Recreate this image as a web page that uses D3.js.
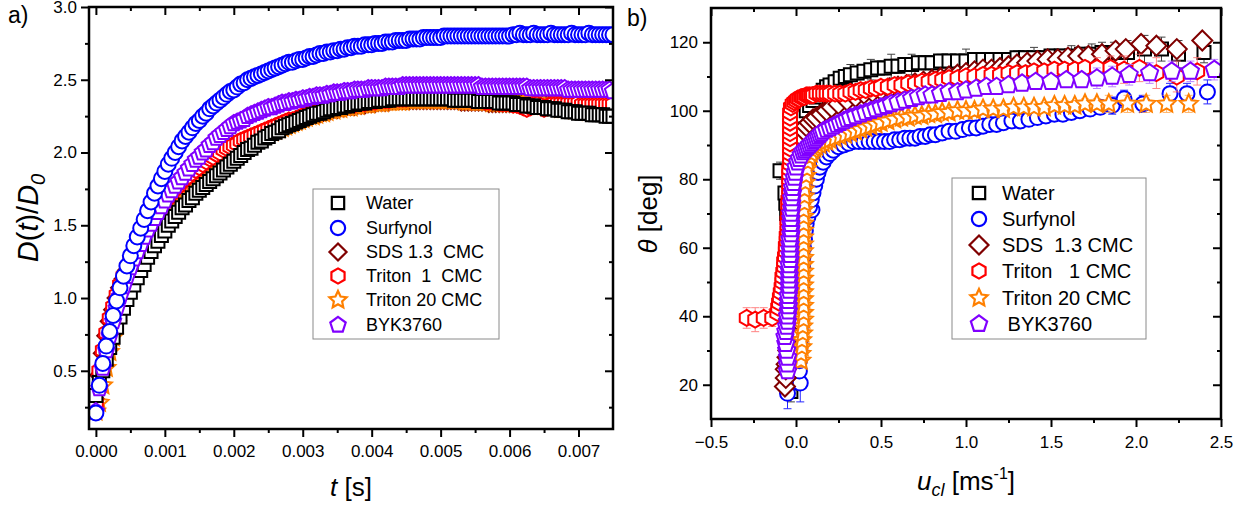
<!DOCTYPE html>
<html>
<head>
<meta charset="utf-8">
<script src="https://cdn.jsdelivr.net/npm/d3@7"></script>
<style>
  body { margin: 0; background: #fff; }
  text { font-family: "Liberation Sans", Arial, sans-serif; }
</style>
</head>
<body>
<svg id="chart" width="1255" height="506"></svg>
<script>
// ---------- panel a data: D(t)/D0 vs t ----------
var timeMs = [
  0,0.05,0.1,0.15,0.2,0.25,0.3,0.35,0.4,0.45,0.5,0.55,0.6,0.65,0.7,0.75,0.8,0.85,0.9,0.95,
  1,1.05,1.1,1.15,1.2,1.25,1.3,1.35,1.4,1.45,1.5,1.55,1.6,1.65,1.7,1.75,1.8,1.85,1.9,1.95,
  2,2.05,2.1,2.15,2.2,2.25,2.3,2.35,2.4,2.45,2.5,2.55,2.6,2.65,2.7,2.75,2.8,2.85,2.9,2.95,
  3,3.05,3.1,3.15,3.2,3.25,3.3,3.35,3.4,3.45,3.5,3.55,3.6,3.65,3.7,3.75,3.8,3.85,3.9,3.95,
  4,4.05,4.1,4.15,4.2,4.25,4.3,4.35,4.4,4.45,4.5,4.55,4.6,4.65,4.7,4.75,4.8,4.85,4.9,4.95,
  5,5.05,5.1,5.15,5.2,5.25,5.3,5.35,5.4,5.45,5.5,5.55,5.6,5.65,5.7,5.75,5.8,5.85,5.9,5.95,
  6,6.05,6.1,6.15,6.2,6.25,6.3,6.35,6.4,6.45,6.5,6.55,6.6,6.65,6.7,6.75,6.8,6.85,6.9,6.95,
  7,7.05,7.1,7.15,7.2,7.25,7.3,7.35,7.4,7.45,7.5
];

var waterA = [
  0.33,0.42,0.50,0.58,0.66,0.73,0.80,0.87,0.93,0.99,1.04,1.09,1.14,1.19,1.23,1.28,1.32,1.36,1.39,1.43,
  1.46,1.50,1.53,1.56,1.59,1.62,1.64,1.67,1.69,1.72,1.74,1.76,1.78,1.80,1.82,1.84,1.86,1.88,1.90,1.92,
  1.94,1.96,1.98,2.00,2.02,2.03,2.05,2.07,2.08,2.10,2.11,2.13,2.14,2.15,2.17,2.18,2.19,2.20,2.21,2.22,
  2.23,2.24,2.25,2.26,2.27,2.27,2.28,2.29,2.30,2.30,2.31,2.31,2.32,2.32,2.33,2.33,2.34,2.34,2.34,2.35,
  2.35,2.35,2.36,2.36,2.36,2.36,2.37,2.37,2.37,2.37,2.37,2.37,2.37,2.37,2.37,2.37,2.37,2.37,2.37,2.37,
  2.37,2.37,2.37,2.37,2.36,2.36,2.36,2.36,2.36,2.36,2.36,2.35,2.35,2.35,2.35,2.35,2.35,2.34,2.34,2.34,
  2.34,2.34,2.33,2.33,2.33,2.32,2.32,2.32,2.31,2.31,2.31,2.30,2.30,2.30,2.29,2.29,2.29,2.28,2.28,2.28,
  2.27,2.27,2.27,2.27,2.26,2.26,2.26,2.26,2.25,2.25,2.25
];
var surfynolA = [
  0.21,0.40,0.55,0.67,0.77,0.88,0.98,1.07,1.15,1.22,1.29,1.36,1.42,1.48,1.54,1.60,1.66,1.72,1.77,1.82,
  1.87,1.92,1.96,2.00,2.04,2.08,2.11,2.14,2.17,2.20,2.22,2.25,2.27,2.30,2.32,2.34,2.36,2.38,2.40,2.42,
  2.43,2.45,2.47,2.48,2.50,2.51,2.52,2.53,2.54,2.55,2.56,2.57,2.58,2.59,2.60,2.61,2.62,2.62,2.63,2.64,
  2.64,2.65,2.66,2.66,2.67,2.68,2.68,2.69,2.69,2.70,2.70,2.71,2.71,2.72,2.72,2.73,2.73,2.73,2.74,2.74,
  2.74,2.75,2.75,2.75,2.76,2.76,2.76,2.77,2.77,2.77,2.77,2.78,2.78,2.78,2.78,2.79,2.79,2.79,2.79,2.79,
  2.79,2.80,2.80,2.80,2.80,2.80,2.80,2.80,2.80,2.80,2.80,2.80,2.80,2.80,2.80,2.80,2.80,2.80,2.80,2.80,
  2.80,2.81,2.81,2.82,2.81,2.81,2.81,2.82,2.81,2.81,2.81,2.81,2.82,2.81,2.81,2.81,2.81,2.81,2.82,2.81,
  2.81,2.81,2.81,2.82,2.81,2.81,2.81,2.81,2.81,2.81,2.81
];
var sdsA = [
  0.30,0.47,0.62,0.74,0.84,0.92,1.00,1.07,1.13,1.19,1.24,1.29,1.34,1.39,1.43,1.47,1.51,1.55,1.59,1.62,
  1.65,1.68,1.71,1.73,1.76,1.78,1.81,1.83,1.85,1.87,1.89,1.91,1.93,1.94,1.96,1.98,1.99,2.01,2.02,2.03,
  2.05,2.06,2.07,2.08,2.09,2.10,2.11,2.12,2.13,2.14,2.15,2.16,2.17,2.18,2.19,2.20,2.21,2.21,2.22,2.23,
  2.24,2.25,2.25,2.26,2.27,2.27,2.28,2.29,2.29,2.30,2.30,2.31,2.31,2.32,2.32,2.32,2.33,2.33,2.33,2.34,
  2.34,2.34,2.35,2.35,2.35,2.35,2.36,2.36,2.36,2.36,2.36,2.36,2.36,2.36,2.36,2.36,2.36,2.36,2.36,2.36,
  2.36,2.36,2.36,2.36,2.36,2.36,2.35,2.35,2.35,2.35,2.35,2.35,2.35,2.35,2.34,2.34,2.34,2.34,2.34,2.34,
  2.34,2.34,2.34,2.34,2.34,2.34,2.34,2.34,2.34,2.34,2.34,2.33,2.33,2.33,2.33,2.33,2.33,2.33,2.33,2.33,
  2.33,2.33,2.33,2.33,2.33,2.33,2.33,2.33,2.33,2.33,2.33
];
var triton1A = [
  0.28,0.50,0.64,0.76,0.86,0.94,1.02,1.09,1.15,1.21,1.26,1.31,1.36,1.41,1.45,1.49,1.53,1.57,1.60,1.63,
  1.66,1.69,1.72,1.75,1.77,1.80,1.82,1.84,1.86,1.88,1.90,1.92,1.94,1.96,1.97,1.99,2.00,2.02,2.03,2.04,
  2.05,2.06,2.08,2.09,2.10,2.11,2.12,2.13,2.14,2.15,2.16,2.17,2.18,2.19,2.20,2.21,2.22,2.22,2.23,2.24,
  2.25,2.26,2.26,2.27,2.28,2.28,2.29,2.30,2.30,2.31,2.31,2.32,2.32,2.33,2.33,2.33,2.34,2.34,2.34,2.35,
  2.35,2.35,2.36,2.36,2.36,2.36,2.37,2.37,2.37,2.37,2.37,2.38,2.38,2.38,2.38,2.38,2.38,2.38,2.38,2.38,
  2.38,2.38,2.38,2.38,2.37,2.37,2.37,2.37,2.37,2.36,2.36,2.36,2.36,2.35,2.35,2.35,2.35,2.34,2.34,2.34,
  2.34,2.33,2.33,2.32,2.31,2.30,2.31,2.33,2.33,2.32,2.30,2.31,2.33,2.34,2.34,2.34,2.34,2.34,2.34,2.34,
  2.34,2.33,2.33,2.33,2.33,2.33,2.33,2.33,2.33,2.33,2.33
];
var triton20A = [
  0.22,0.28,0.40,0.52,0.63,0.73,0.82,0.90,0.97,1.04,1.10,1.16,1.21,1.26,1.31,1.35,1.39,1.43,1.47,1.51,
  1.54,1.57,1.60,1.63,1.66,1.69,1.71,1.74,1.76,1.78,1.81,1.83,1.85,1.87,1.89,1.91,1.93,1.94,1.96,1.98,
  1.99,2.01,2.02,2.04,2.05,2.07,2.08,2.09,2.11,2.12,2.13,2.14,2.15,2.16,2.17,2.18,2.19,2.20,2.21,2.22,
  2.23,2.24,2.25,2.25,2.26,2.27,2.27,2.28,2.29,2.29,2.30,2.30,2.31,2.31,2.31,2.32,2.32,2.33,2.33,2.33,
  2.34,2.34,2.34,2.34,2.35,2.35,2.35,2.35,2.35,2.35,2.36,2.36,2.36,2.36,2.36,2.36,2.36,2.36,2.36,2.36,
  2.36,2.36,2.36,2.36,2.36,2.36,2.36,2.35,2.35,2.35,2.35,2.35,2.35,2.35,2.35,2.34,2.34,2.34,2.34,2.34,
  2.34,2.34,2.34,2.33,2.33,2.33,2.33,2.32,2.32,2.32,2.32,2.31,2.31,2.31,2.31,2.30,2.30,2.30,2.30,2.29,
  2.29,2.29,2.29,2.28,2.28,2.28,2.28,2.28,2.27,2.27,2.27
];
var byk3760A = [
  0.22,0.38,0.52,0.64,0.74,0.84,0.93,1.01,1.08,1.15,1.21,1.27,1.32,1.37,1.42,1.47,1.51,1.55,1.59,1.63,
  1.67,1.71,1.74,1.77,1.80,1.83,1.86,1.89,1.92,1.95,1.97,2.00,2.02,2.05,2.07,2.10,2.12,2.14,2.16,2.18,
  2.20,2.21,2.22,2.23,2.25,2.26,2.27,2.28,2.29,2.30,2.31,2.31,2.32,2.33,2.34,2.34,2.35,2.35,2.36,2.36,
  2.37,2.37,2.38,2.38,2.39,2.39,2.39,2.40,2.40,2.41,2.41,2.41,2.42,2.42,2.42,2.43,2.43,2.43,2.43,2.44,
  2.44,2.44,2.44,2.44,2.45,2.45,2.45,2.45,2.45,2.46,2.46,2.46,2.46,2.46,2.46,2.46,2.46,2.46,2.46,2.46,
  2.46,2.46,2.46,2.46,2.46,2.46,2.46,2.46,2.46,2.46,2.46,2.46,2.45,2.45,2.45,2.45,2.45,2.45,2.45,2.45,
  2.45,2.45,2.45,2.45,2.45,2.45,2.44,2.44,2.44,2.44,2.44,2.44,2.44,2.44,2.44,2.44,2.44,2.43,2.43,2.43,
  2.43,2.43,2.43,2.43,2.43,2.43,2.43,2.43,2.43,2.43,2.42
];

// ---------- panel b data: [u_cl (m/s), theta (deg), error (deg, optional)] ----------
var waterB = [
  [-0.03,18,3],[-0.03,20.5,3],[-0.025,23,3],[-0.025,25.5],[-0.02,28],[-0.02,31],[-0.025,34],[-0.03,37],
  [-0.03,40],[-0.035,43],[-0.035,46],[-0.04,49],[-0.04,52],[-0.04,55],[-0.045,58],[-0.045,61],[-0.05,64],
  [-0.05,67],[-0.055,70],[-0.06,73],[-0.065,76],[-0.094,82.5,2.5],[-0.03,86],[-0.02,89],[-0.01,92],[0,95],
  [0.02,97],[0.04,98.5],[0.06,100],[0.08,101.5],[0.1,103],[0.12,104],[0.14,105],[0.16,106],[0.18,107],
  [0.2,107.5],[0.23,108.5],[0.26,109.5],[0.29,110],[0.32,110.5,3],[0.36,111],[0.4,111.5],[0.44,112,3],
  [0.48,112.5],[0.52,112.5],[0.56,113,3.5],[0.6,113],[0.64,113.5],[0.68,113.5,3],[0.72,114],[0.76,114],
  [0.8,114],[0.85,114.5],[0.9,114.5],[0.95,114.5],[1.0,114.5,3.5],[1.05,115],[1.1,115],[1.15,115],[1.2,115],
  [1.25,115],[1.3,115.5],[1.35,115.5],[1.4,115.5,3],[1.45,115.5],[1.5,116],[1.56,116],[1.62,116,3],
  [1.68,116.5],[1.74,116.5,3],[1.8,117,3],[1.87,117,3],[1.95,117,3.5],[2.05,118,4],[2.15,118,3.5],
  [2.25,116.5,4],[2.4,117,3]
];
var surfynolB = [
  [-0.05,17.5,4.5],[0.025,20.5,5.5],[0.02,24],[0.02,27],[0.02,30],[0.025,33],[0.025,36],[0.03,39],[0.03,42],
  [0.03,45],[0.035,48],[0.035,51],[0.04,54],[0.04,57],[0.045,60],[0.05,62.5],[0.055,65],[0.06,67],[0.07,69],
  [0.094,71],[0.08,72],[0.09,74],[0.1,76],[0.11,78],[0.12,80],[0.13,82],[0.14,83.5],[0.16,85],[0.18,86.5],
  [0.2,87.5],[0.22,88.5],[0.25,89.5],[0.28,90],[0.31,90.5],[0.34,91],[0.37,91],[0.4,91],[0.43,91],[0.46,91],
  [0.49,91],[0.52,91],[0.55,91],[0.58,91.5],[0.61,91.5],[0.64,92],[0.67,92],[0.7,92],[0.73,92.5],[0.76,92.5],
  [0.79,93],[0.82,93],[0.86,93.5],[0.9,94],[0.94,94],[0.98,94.5],[1.02,95],[1.06,95],[1.1,95.5],[1.14,96],
  [1.18,96],[1.22,96.5],[1.27,97],[1.32,97],[1.37,97.5],[1.42,98],[1.47,98.5],[1.52,99],[1.57,99],
  [1.62,99.5],[1.67,100],[1.73,100.5],[1.79,101],[1.86,101.5,2.5],[1.93,103.5,2.5],[2.04,102,2.5],
  [2.2,105,3],[2.3,105,3],[2.42,105.5,3.5]
];
var sdsB = [
  [-0.065,19.5,2],[-0.06,22],[-0.06,24.5],[-0.055,26],[-0.05,28],[-0.045,30],[-0.04,32],[-0.035,34],[0,36],
  [0.005,39],[0.01,42],[0.01,45],[0.015,48],[0.015,51],[0.02,54],[0.02,57],[0.02,60],[0.02,63],[0.02,66],
  [0.02,69],[0.02,72],[0.02,75],[0.02,78],[0.02,81],[0.025,84],[0.03,87],[0.035,90],[0.04,92],[0.05,94],
  [0.06,95.5],[0.08,96.5],[0.1,97.5],[0.12,98],[0.15,99],[0.18,100],[0.21,101],[0.25,102],[0.3,103],
  [0.35,104],[0.4,105],[0.45,105.5],[0.5,106],[0.55,106.5],[0.6,107],[0.65,107.5],[0.7,108],[0.75,108.5],
  [0.8,109],[0.85,109.5],[0.9,110],[0.95,110.5],[1.0,111],[1.05,111.5],[1.1,112],[1.15,112],[1.2,112.5],
  [1.25,113],[1.3,113.5],[1.36,114],[1.42,114.5],[1.48,115],[1.54,115],[1.6,115.5],[1.66,116],[1.72,116],
  [1.8,116.5],[1.88,117.5],[1.94,118],[2.03,119.5],[2.12,119],[2.24,118],[2.39,120.5]
];
var triton1B = [
  [-0.29,39.5,3],[-0.24,39,3.5],[-0.19,39.5,3],[-0.14,39.5,2.5],
  [-0.11,41],[-0.105,42.5],[-0.1,44],[-0.095,45.5],[-0.09,47],[-0.085,48.5],[-0.08,50],[-0.08,51.5],
  [-0.075,53],[-0.07,54.5],[-0.07,56],[-0.065,57.5],[-0.06,59],[-0.06,60.5],[-0.055,62],[-0.055,63.5],
  [-0.05,65],[-0.05,66.5],[-0.05,68],[-0.045,69.5],[-0.045,71],[-0.045,72.5],[-0.045,74],[-0.04,75.5],
  [-0.04,77],[-0.04,78.5],[-0.04,80],[-0.04,81.5],[-0.04,83],[-0.035,84.5],[-0.035,86],[-0.035,87.5],
  [-0.035,89],[-0.035,90.5],[-0.035,92],[-0.035,93.5],[-0.035,95],[-0.035,96.5],[-0.035,98],[-0.035,99.5],
  [-0.03,101],[-0.02,102],[-0.01,102.5],[0,103],[0.01,103.5],[0.02,103.5],[0.03,104],[0.04,104],[0.05,104],
  [0.06,104.5],[0.07,104.5],[0.08,104.5],[0.09,104.5],[0.1,104.5],[0.12,105],[0.14,105],[0.16,105],
  [0.18,105],[0.2,105],[0.23,105],[0.26,105],[0.29,105],[0.32,105.5],[0.35,105.5],[0.38,106],[0.41,106],
  [0.44,106.5],[0.47,106.5],[0.5,107],[0.54,107],[0.58,107.5],[0.62,107.5],[0.66,108],[0.7,108],
  [0.74,108.5],[0.78,108.5],[0.82,109],[0.86,109],[0.9,109.5],[0.95,109.5],[1.0,110],[1.05,110],[1.1,110.5],
  [1.15,110.5],[1.2,110.5],[1.25,111],[1.3,111],[1.35,111],[1.4,111.5],[1.46,111.5],[1.52,112],[1.58,112],
  [1.64,112],[1.7,112.5],[1.77,112.5,3],[1.85,112.5,3.5],[1.93,112,4],[2.02,112.5,4],[2.12,111,4.5],
  [2.24,110,4.5],[2.36,111.5,4]
];
var triton20B = [
  [0.03,27,2],[0.03,29,2],[0.035,31,2],[0.035,33],[0.04,35],[0.04,37],[0.045,39],[0.045,41],[0.045,43],
  [0.045,45],[0.045,47],[0.045,49],[0.045,51],[0.045,53],[0.045,55],[0.045,57],[0.045,59],[0.045,61],
  [0.045,63],[0.045,65],[0.045,67],[0.045,69],[0.045,71],[0.05,73],[0.05,75],[0.05,77],[0.055,79],[0.06,81],
  [0.065,83],[0.07,85],[0.08,86.5],[0.09,87.5],[0.1,88.5],[0.11,89],[0.12,89.5],[0.14,90],[0.16,90.5],
  [0.18,91],[0.2,91.5],[0.23,92],[0.26,92.5],[0.29,93],[0.32,93.5],[0.35,94],[0.38,94.5],[0.41,95],
  [0.44,95.5],[0.47,96],[0.5,96.5],[0.54,97],[0.58,97.5],[0.62,98],[0.66,98],[0.7,98.5],[0.74,98.5],
  [0.78,99],[0.82,99],[0.86,99.5],[0.9,99.5],[0.95,100],[1.0,100],[1.05,100],[1.1,100.5],[1.16,100.5],
  [1.22,100.5],[1.28,101],[1.34,101],[1.4,101],[1.46,101],[1.52,101.5],[1.58,101.5],[1.64,101.5],
  [1.7,102],[1.77,102],[1.84,102,2.5],[1.95,102,2.5],[2.06,102,2.5],[2.18,102,2.5],[2.31,102,2.5]
];
var byk3760B = [
  [-0.05,24],[-0.05,26],[-0.05,28],[-0.055,30],[-0.06,32],[-0.065,34],[-0.06,35.5],[-0.055,37],[-0.05,38.5],
  [-0.05,40],[-0.045,41.5],[-0.045,43],[-0.045,44.5],[-0.045,46],[-0.04,47.5],[-0.04,49],[-0.04,50.5],
  [-0.04,52],[-0.04,53.5],[-0.04,55],[-0.035,56.5],[-0.035,58],[-0.035,59.5],[-0.035,61],[-0.035,62.5],
  [-0.03,64],[-0.03,65.5],[-0.03,67],[-0.03,68.5],[-0.03,70],[-0.025,71.5],[-0.025,73],[-0.025,74.5],
  [-0.02,76],[-0.02,77.5],[-0.015,79],[-0.01,80.5],[-0.005,82],[0,83.5],[0.01,85],[0.02,86],[0.03,87],
  [0.04,88],[0.05,88.5],[0.06,89],[0.07,89.5],[0.08,90],[0.09,90.5],[0.1,91],[0.11,91.5],[0.12,92],
  [0.13,92.5],[0.14,93],[0.15,93.5],[0.16,94],[0.18,94.5],[0.2,95],[0.22,95.5],[0.24,96],[0.26,96.5],
  [0.28,97],[0.3,97.5],[0.32,98],[0.35,98.5],[0.38,99],[0.41,99.5],[0.44,100],[0.47,100.5],[0.5,101],
  [0.53,101.5],[0.56,102],[0.6,102.5],[0.64,103],[0.68,103.5],[0.72,104],[0.76,104.5],[0.8,104.5],
  [0.85,105],[0.9,105.5],[0.95,105.5],[1.0,106],[1.06,106.5],[1.12,107],[1.18,107],[1.25,107.5],[1.33,108],
  [1.41,108.5],[1.5,108.5],[1.59,109],[1.68,109],[1.77,109.5,3],[1.86,110,3],[1.96,110.5,3],[2.08,111,3],
  [2.21,111.5,3],[2.32,111.5,3],[2.46,112,3]
];

var legendLabelsA = ["Water", "Surfynol", "SDS 1.3  CMC", "Triton  1  CMC", "Triton 20 CMC", "BYK3760"];
var legendLabelsB = ["Water", "Surfynol", "SDS  1.3 CMC", "Triton   1 CMC", "Triton 20 CMC", " BYK3760"];

var xTicksA = [0, 0.001, 0.002, 0.003, 0.004, 0.005, 0.006, 0.007];
var xMinorA = [0.0005, 0.0015, 0.0025, 0.0035, 0.0045, 0.0055, 0.0065];
var yTicksA = [0.5, 1.0, 1.5, 2.0, 2.5, 3.0];
var yMinorA = [0.25, 0.75, 1.25, 1.75, 2.25, 2.75];
var xTicksB = [-0.5, 0, 0.5, 1.0, 1.5, 2.0, 2.5];
var xMinorB = [-0.25, 0.25, 0.75, 1.25, 1.75, 2.25];
var yTicksB = [20, 40, 60, 80, 100, 120];
var yMinorB = [30, 50, 70, 90, 110];

// ---------- styles ----------
var series = [
  { name: "water",    color: "#000000", bar: "#222222", shape: "square" },
  { name: "surfynol", color: "#0000ff", bar: "#0000ff", shape: "circle" },
  { name: "sds",      color: "#800000", bar: "#a04040", shape: "diamond" },
  { name: "triton1",  color: "#ff0000", bar: "#ff7070", shape: "hexagon" },
  { name: "triton20", color: "#ff8000", bar: "#ffaa55", shape: "star" },
  { name: "byk",      color: "#8000ff", bar: "#b070ff", shape: "pentagon" }
];
var dataA = { water: waterA, surfynol: surfynolA, sds: sdsA, triton1: triton1A, triton20: triton20A, byk: byk3760A };
var dataB = { water: waterB, surfynol: surfynolB, sds: sdsB, triton1: triton1B, triton20: triton20B, byk: byk3760B };
var defaultErr = { water: 2, surfynol: 2, sds: 1.5, triton1: 2, triton20: 1.5, byk: 2 };

var sizeA = { square: 6.5, circle: 7.5, diamond: 9, hexagon: 8, star: 9.5, pentagon: 8.5 };
var sizeB = { square: 6.5, circle: 7.5, diamond: 10, hexagon: 8, star: 9.5, pentagon: 9 };

function polyPath(n, r, start) {
  var pts = d3.range(n).map(function (i) {
    var a = start + i * 2 * Math.PI / n;
    return (r * Math.cos(a)).toFixed(2) + "," + (r * Math.sin(a)).toFixed(2);
  });
  return "M" + pts.join("L") + "Z";
}
function starPath(r, ri) {
  var pts = d3.range(10).map(function (i) {
    var a = -Math.PI / 2 + i * Math.PI / 5;
    var rr = i % 2 ? ri : r;
    return (rr * Math.cos(a)).toFixed(2) + "," + (rr * Math.sin(a)).toFixed(2);
  });
  return "M" + pts.join("L") + "Z";
}
function markerPath(shape, r) {
  if (shape === "square") return "M" + (-r) + "," + (-r) + "H" + r + "V" + r + "H" + (-r) + "Z";
  if (shape === "circle") return d3.symbol(d3.symbolCircle, Math.PI * r * r)();
  if (shape === "diamond") return "M0," + (-r) + "L" + r + ",0L0," + r + "L" + (-r) + ",0Z";
  if (shape === "hexagon") return polyPath(6, r, -Math.PI / 2);
  if (shape === "pentagon") return polyPath(5, r, -Math.PI / 2);
  return starPath(r, r * 0.48);
}

var svg = d3.select("#chart");
svg.append("rect").attr("width", 1255).attr("height", 506).attr("fill", "#fff");

function styleAxis(g, fontSize) {
  g.select(".domain").remove();
  g.attr("font-family", "Liberation Sans, Arial, sans-serif").attr("font-size", fontSize);
  g.selectAll("line").attr("stroke", "#000").attr("stroke-width", 2);
  g.selectAll("text").attr("fill", "#000");
}

function drawAxes(x, y, o) {
  var x0 = x.range()[0], x1 = x.range()[1], y0 = y.range()[0], y1 = y.range()[1];
  // bottom
  svg.append("g").attr("transform", "translate(0," + y0 + ")")
    .call(d3.axisBottom(x).tickValues(o.xMinor).tickSize(4).tickFormat(""))
    .call(styleAxis, o.fs);
  svg.append("g").attr("transform", "translate(0," + y0 + ")")
    .call(d3.axisBottom(x).tickValues(o.xTicks).tickSize(8).tickFormat(o.xFmt))
    .call(styleAxis, o.fs)
    .call(function (g) { g.selectAll("text").attr("y", o.xLabY).attr("dy", null); });
  // top (ticks inward)
  svg.append("g").attr("transform", "translate(0," + y1 + ")")
    .call(d3.axisTop(x).tickValues(o.xMinor).tickSize(-4).tickFormat(""))
    .call(styleAxis, o.fs);
  svg.append("g").attr("transform", "translate(0," + y1 + ")")
    .call(d3.axisTop(x).tickValues(o.xTicks).tickSize(-8).tickFormat(""))
    .call(styleAxis, o.fs);
  // left
  svg.append("g").attr("transform", "translate(" + x0 + ",0)")
    .call(d3.axisLeft(y).tickValues(o.yMinor).tickSize(4).tickFormat(""))
    .call(styleAxis, o.fs);
  svg.append("g").attr("transform", "translate(" + x0 + ",0)")
    .call(d3.axisLeft(y).tickValues(o.yTicks).tickSize(8).tickPadding(o.yPad).tickFormat(o.yFmt))
    .call(styleAxis, o.fs);
  // right (ticks inward)
  svg.append("g").attr("transform", "translate(" + x1 + ",0)")
    .call(d3.axisRight(y).tickValues(o.yMinor).tickSize(-4).tickFormat(""))
    .call(styleAxis, o.fs);
  svg.append("g").attr("transform", "translate(" + x1 + ",0)")
    .call(d3.axisRight(y).tickValues(o.yTicks).tickSize(-8).tickFormat(""))
    .call(styleAxis, o.fs);
  svg.append("rect").attr("x", x0).attr("y", y1).attr("width", x1 - x0).attr("height", y0 - y1)
    .attr("fill", "none").attr("stroke", "#000").attr("stroke-width", 2.5);
}

function clipFor(id, x, y) {
  svg.append("clipPath").attr("id", id).append("rect")
    .attr("x", x.range()[0]).attr("y", y.range()[1])
    .attr("width", x.range()[1] - x.range()[0]).attr("height", y.range()[0] - y.range()[1]);
  return svg.append("g").attr("clip-path", "url(#" + id + ")");
}

function drawLegend(x, y, w, h, rows, labels, sizes, symX, textX, fs) {
  var g = svg.append("g");
  g.append("rect").attr("x", x).attr("y", y).attr("width", w).attr("height", h)
    .attr("fill", "#fff").attr("stroke", "#8a8a8a").attr("stroke-width", 1);
  series.forEach(function (s, i) {
    g.append("path").attr("d", markerPath(s.shape, sizes[s.shape] * 0.95))
      .attr("transform", "translate(" + symX + "," + rows[i] + ")")
      .attr("fill", "#fff").attr("stroke", s.color).attr("stroke-width", 2.2);
    g.append("text").attr("x", textX).attr("y", rows[i] + fs * 0.36)
      .attr("font-size", fs).attr("fill", "#000").style("white-space", "pre")
      .text(labels[i]);
  });
}

// ================= panel a =================
var xA = d3.scaleLinear().domain([-0.0001, 0.0075]).range([89, 613]);
var yA = d3.scaleLinear().domain([0.1, 3.0]).range([429, 7]);
var plotA = clipFor("clipA", xA, yA);
var orderA = ["sds", "triton20", "triton1", "water", "byk", "surfynol"];
orderA.forEach(function (key) {
  var s = series.find(function (d) { return d.name === key; });
  var pts = timeMs.map(function (t, i) { return { t: t / 1000, v: dataA[key][i] }; });
  plotA.append("g").selectAll("path").data(pts).enter().append("path")
    .attr("d", markerPath(s.shape, sizeA[s.shape]))
    .attr("transform", function (d) { return "translate(" + xA(d.t) + "," + yA(d.v) + ")"; })
    .attr("fill", "#fff").attr("stroke", s.color).attr("stroke-width", 2);
});
drawAxes(xA, yA, {
  xTicks: xTicksA, xMinor: xMinorA, yTicks: yTicksA, yMinor: yMinorA,
  xFmt: d3.format(".3f"), yFmt: d3.format(".1f"), fs: 17, xLabY: 28, yPad: 4
});
drawLegend(313, 189, 186, 150, [203, 228, 252, 276, 300, 325], legendLabelsA, sizeA, 338, 366, 18);

// axis titles a
svg.append("text").attr("x", 351).attr("y", 496).attr("text-anchor", "middle").attr("font-size", 26)
  .html('<tspan font-style="italic">t</tspan> [s]');
svg.append("text").attr("transform", "translate(38,218) rotate(-90)").attr("text-anchor", "middle")
  .attr("font-size", 29)
  .html('<tspan font-style="italic">D</tspan>(<tspan font-style="italic">t</tspan>)/<tspan font-style="italic">D</tspan><tspan font-style="italic" font-size="20" dy="7">0</tspan>');
svg.append("text").attr("x", 8).attr("y", 23).attr("font-size", 23).text("a)");

// ================= panel b =================
var xB = d3.scaleLinear().domain([-0.5, 2.5]).range([711, 1221]);
var yB = d3.scaleLinear().domain([10, 130]).range([419, 8]);
var plotB = clipFor("clipB", xB, yB);
series.forEach(function (s) {
  var pts = dataB[s.name].map(function (d) {
    return { u: d[0], th: d[1], e: d.length > 2 ? d[2] : defaultErr[s.name] };
  });
  var g = plotB.append("g");
  var bars = g.append("g").attr("stroke", s.bar).attr("stroke-width", 1).attr("opacity", 0.85);
  bars.selectAll("line.v").data(pts).enter().append("line")
    .attr("x1", function (d) { return xB(d.u); }).attr("x2", function (d) { return xB(d.u); })
    .attr("y1", function (d) { return yB(d.th - d.e); }).attr("y2", function (d) { return yB(d.th + d.e); });
  bars.selectAll("line.top").data(pts).enter().append("line")
    .attr("x1", function (d) { return xB(d.u) - 4; }).attr("x2", function (d) { return xB(d.u) + 4; })
    .attr("y1", function (d) { return yB(d.th + d.e); }).attr("y2", function (d) { return yB(d.th + d.e); });
  bars.selectAll("line.bot").data(pts).enter().append("line")
    .attr("x1", function (d) { return xB(d.u) - 4; }).attr("x2", function (d) { return xB(d.u) + 4; })
    .attr("y1", function (d) { return yB(d.th - d.e); }).attr("y2", function (d) { return yB(d.th - d.e); });
  g.append("g").selectAll("path").data(pts).enter().append("path")
    .attr("d", markerPath(s.shape, sizeB[s.shape]))
    .attr("transform", function (d) { return "translate(" + xB(d.u) + "," + yB(d.th) + ")"; })
    .attr("fill", "#fff").attr("stroke", s.color).attr("stroke-width", 2);
});
drawAxes(xB, yB, {
  xTicks: xTicksB, xMinor: xMinorB, yTicks: yTicksB, yMinor: yMinorB,
  xFmt: d3.format(".1f"), yFmt: d3.format("d"), fs: 17, xLabY: 29, yPad: 5
});
drawLegend(952, 178, 194, 161, [193, 219, 245, 271, 298, 324], legendLabelsB, sizeB, 979, 1002, 20);

// axis titles b
svg.append("text").attr("x", 966).attr("y", 490).attr("text-anchor", "middle").attr("font-size", 26)
  .html('<tspan font-style="italic">u</tspan><tspan font-style="italic" font-size="18" dy="6">cl</tspan><tspan dy="-6"> [ms</tspan><tspan font-size="16" dy="-11">-1</tspan><tspan dy="11">]</tspan>');
svg.append("text").attr("transform", "translate(657,214) rotate(-90)").attr("text-anchor", "middle")
  .attr("font-size", 26)
  .html('<tspan font-style="italic">θ</tspan> [deg]');
svg.append("text").attr("x", 627).attr("y", 26).attr("font-size", 23).text("b)");
</script>
</body>
</html>
